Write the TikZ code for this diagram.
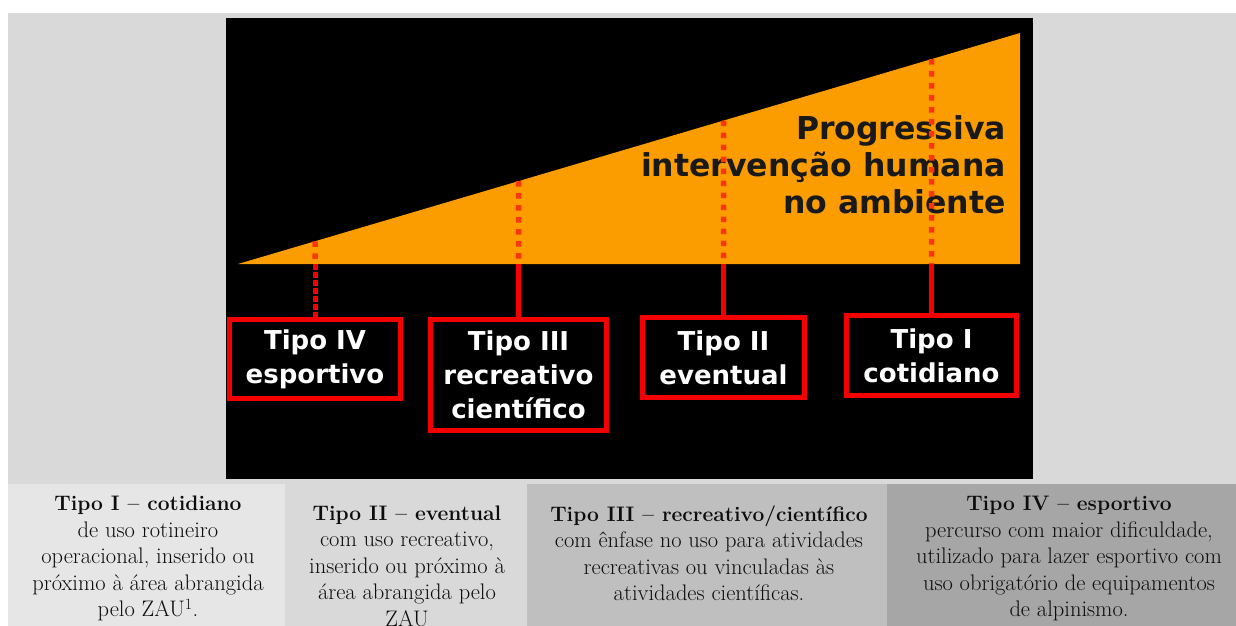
\documentclass[tikz,border=0pt]{standalone}
\usepackage{fontspec}
\usepackage{tikz}

\newfontfamily\boxfont{DejaVu Sans}

\definecolor{bggray}{RGB}{217,217,217}
\definecolor{cellA}{RGB}{230,230,230}
\definecolor{cellB}{RGB}{217,217,217}
\definecolor{cellC}{RGB}{191,191,191}
\definecolor{cellD}{RGB}{166,166,166}
\definecolor{orng}{RGB}{251,157,0}
\definecolor{tipored}{RGB}{245,0,0}
\definecolor{dotred}{RGB}{250,55,10}

\newcommand{\desctitle}[1]{{\bfseries\fontsize{21}{26.5}\selectfont #1}}

\tikzset{
  tipobox/.style={draw=tipored, line width=5pt, fill=black, text=white, inner sep=0pt,
    align=center, font=\boxfont\bfseries\fontsize{26}{34}\selectfont},
  desc/.style={align=center, inner sep=0pt, text=black!95, font=\fontsize{22.5}{26.5}\selectfont},
  dotline/.style={dotred, line width=5.5pt, dash pattern=on 5.5pt off 6.5pt},
  solidline/.style={tipored, line width=5pt}
}

\begin{document}
\begin{tikzpicture}[x=1pt,y=-1pt]
  \useasboundingbox (0,0) rectangle (1236,626);
  \clip (0,0) rectangle (1236,626);
  % background and picture
  \fill[bggray] (8,13) rectangle (1236,484);
  \fill[black] (226,18) rectangle (1033,479);
  \coordinate (tip) at (238,264);
  \coordinate (apex) at (1020,33);
  \fill[orng] (tip) -- (apex) -- (1020,264) -- cycle;
  \node[font=\boxfont\bfseries\fontsize{31.5}{37}\selectfont, align=right, anchor=east,
    inner sep=0pt, text=black!90] (prog) at (1006,165)
    {Progressiva\\intervenção humana\\no ambiente};
  % types
  \node[tipobox, minimum width=171pt, minimum height=79pt] (t4) at (315,359) {Tipo IV\\esportivo};
  \node[tipobox, minimum width=176pt, minimum height=111pt] (t3) at (518.5,375) {Tipo III\\recreativo\\científico};
  \node[tipobox, minimum width=162pt, minimum height=80pt] (t2) at (723.5,357.5) {Tipo II\\eventual};
  \node[tipobox, minimum width=170pt, minimum height=80pt] (t1) at (931.5,355.5) {Tipo I\\cotidiano};
  \foreach \n in {1,...,4}{
    \coordinate (b\n) at (t\n.north |- tip);
    \path (intersection of tip--apex and t\n.north--b\n) coordinate (e\n);
    \draw[dotline] (e\n) -- (b\n);
  }
  \foreach \n in {1,2,3}
    \draw[solidline] (b\n) -- (t\n.north);
  \draw[solidline, dash pattern=on 6pt off 2pt] (b4) -- (t4.north);
  % table below
  \fill[cellA] (8,484) rectangle (285,626);
  \fill[cellB] (285,484) rectangle (527,626);
  \fill[cellC] (527,484) rectangle (887,626);
  \fill[cellD] (887,484) rectangle (1236,626);
  \node[desc] (d1) at (148,558.5) {\desctitle{Tipo I – cotidiano}\\de uso rotineiro\\operacional, inserido ou\\próximo à área abrangida\\pelo ZAU\textsuperscript{1}.};
  \node[desc] (d2) at (407,566) {\desctitle{Tipo II – eventual}\\com uso recreativo,\\inserido ou próximo à\\área abrangida pelo\\ZAU};
  \node[desc] (d3) at (709,553) {\desctitle{Tipo III – recreativo/científico}\\com ênfase no uso para atividades\\recreativas ou vinculadas às\\atividades científicas.};
  \node[desc] (d4) at (1069,558.5) {\desctitle{Tipo IV – esportivo}\\percurso com maior dificuldade,\\utilizado para lazer esportivo com\\uso obrigatório de equipamentos\\de alpinismo.};
\end{tikzpicture}
\end{document}
